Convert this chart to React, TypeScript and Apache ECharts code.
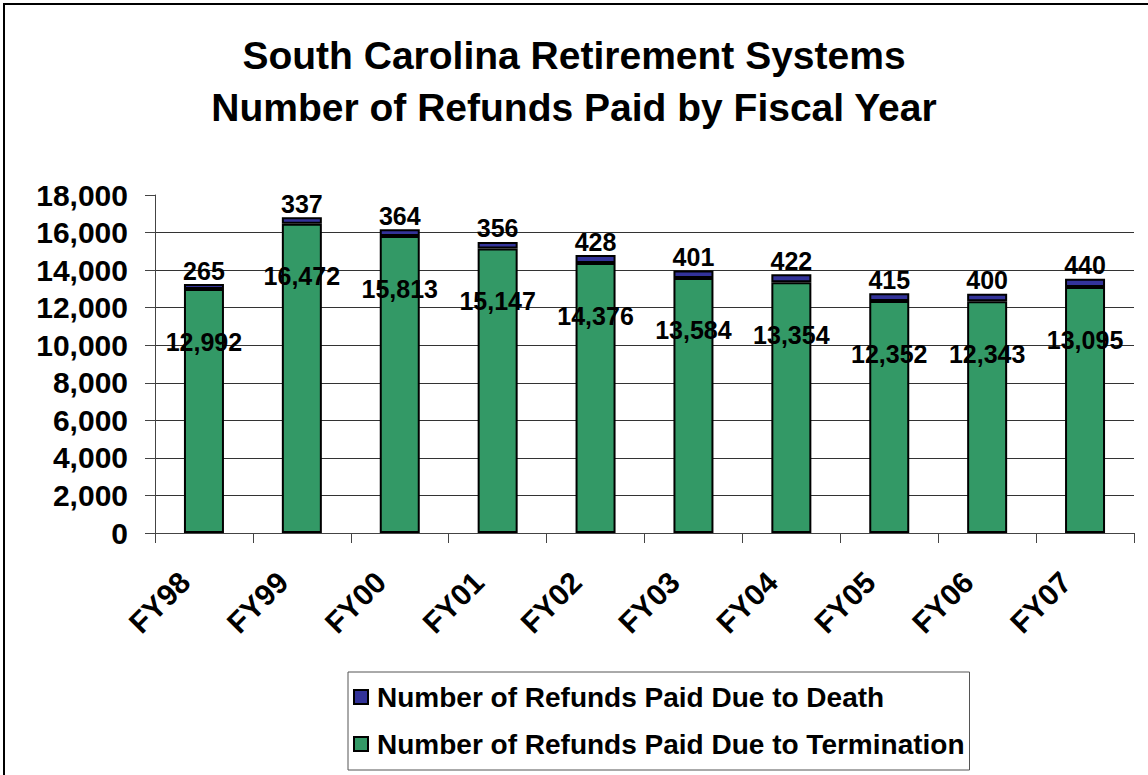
import React, { useEffect, useRef } from "react";
import * as echarts from "echarts";

const categories = ["FY98", "FY99", "FY00", "FY01", "FY02", "FY03", "FY04", "FY05", "FY06", "FY07"];
const terminationValues = [12992, 16472, 15813, 15147, 14376, 13584, 13354, 12352, 12343, 13095];
const deathValues = [265, 337, 364, 356, 428, 401, 422, 415, 400, 440];
const seriesNames = ["Number of Refunds Paid Due to Death", "Number of Refunds Paid Due to Termination"];
const titleLines = ["South Carolina Retirement Systems", "Number of Refunds Paid by Fiscal Year"];

const FONT = "'Liberation Sans', Arial, Helvetica, sans-serif";
const fmt = (v: number) => v.toLocaleString("en-US");

export default function App() {
  const ref = useRef<HTMLDivElement>(null);
  useEffect(() => {
    document.body.style.margin = "0";
    const chart = echarts.init(ref.current!, null, { renderer: "svg" });
    chart.setOption({
      animation: false,
      backgroundColor: "#ffffff",
      textStyle: { fontFamily: FONT },
      title: {
        text: titleLines.join("\n"),
        left: "center",
        top: 24,
        textStyle: { fontFamily: FONT, fontSize: 39, fontWeight: "bold", color: "#000", lineHeight: 52 },
      },
      graphic: [
        {
          type: "rect",
          shape: { x: 4, y: 4, width: 1300, height: 1000 },
          style: { fill: "none", stroke: "#000", lineWidth: 2 },
          silent: true,
        },
      ],
      legend: {
        orient: "vertical",
        left: 348,
        top: 672,
        width: 627,
        padding: [10, 5, 11, 5],
        itemGap: 17,
        itemWidth: 14,
        itemHeight: 14,
        icon: "rect",
        borderColor: "#555",
        borderWidth: 1,
        data: seriesNames,
        textStyle: { fontFamily: FONT, fontSize: 28, fontWeight: "bold", color: "#000", lineHeight: 30, padding: [0, 0, 0, 4] },
      },
      grid: { left: 155, right: 14, top: 195, bottom: 242, containLabel: false },
      xAxis: {
        type: "category",
        data: categories,
        axisLine: { lineStyle: { color: "#444", width: 1 } },
        axisTick: { show: true, length: 10, lineStyle: { color: "#444" } },
        axisLabel: {
          rotate: 45,
          margin: 25,
          padding: [0, 27, 0, 0],
          fontFamily: FONT,
          fontSize: 30,
          fontWeight: "bold",
          color: "#000",
        },
      },
      yAxis: {
        type: "value",
        min: 0,
        max: 18000,
        interval: 2000,
        axisLine: { show: true, lineStyle: { color: "#444", width: 1 } },
        axisTick: { show: true, length: 10, lineStyle: { color: "#444" } },
        axisLabel: {
          margin: 27,
          fontFamily: FONT,
          fontSize: 30,
          fontWeight: "bold",
          color: "#000",
          formatter: (v: number) => fmt(v),
        },
        splitLine: { show: true, showMaxLine: false, lineStyle: { color: "#333", width: 1 } },
      },
      series: [
        {
          name: seriesNames[1],
          type: "bar",
          stack: "total",
          barWidth: 40,
          data: terminationValues,
          itemStyle: { color: "#339966", borderColor: "#000", borderWidth: 2 },
          label: {
            show: true,
            position: "insideTop",
            distance: 40,
            fontFamily: FONT,
            fontSize: 25,
            fontWeight: "bold",
            color: "#000",
            formatter: (p: any) => fmt(p.value),
          },
        },
        {
          name: seriesNames[0],
          type: "bar",
          stack: "total",
          barWidth: 40,
          data: deathValues,
          itemStyle: { color: "#333399", borderColor: "#000", borderWidth: 2 },
          label: {
            show: true,
            position: "top",
            distance: 1,
            fontFamily: FONT,
            fontSize: 25,
            fontWeight: "bold",
            color: "#000",
            formatter: (p: any) => fmt(p.value),
          },
        },
      ],
    });
    return () => chart.dispose();
  }, []);
  return <div ref={ref} style={{ width: 1148, height: 775 }} />;
}
